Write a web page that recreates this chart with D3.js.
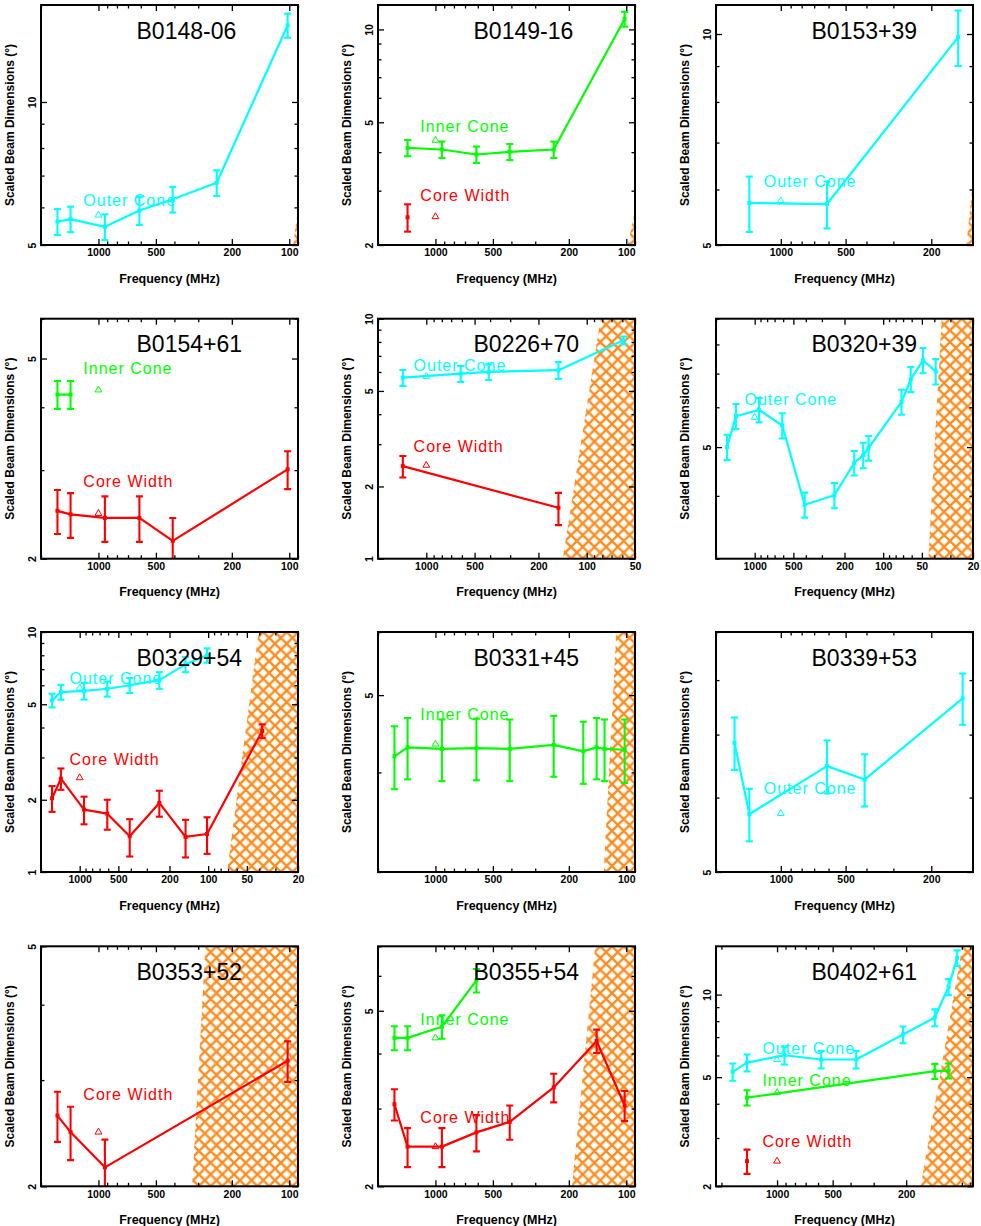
<!DOCTYPE html>
<html><head><meta charset="utf-8">
<script src="https://cdn.jsdelivr.net/npm/d3@7"></script>
<style>body{margin:0;background:#fff}svg{display:block}</style>
</head><body>
<svg id="c" width="981" height="1226"></svg>
<script>
// ---------- data ----------
const panelNames = ["B0148-06","B0149-16","B0153+39","B0154+61","B0226+70","B0320+39",
                    "B0329+54","B0331+45","B0339+53","B0353+52","B0355+54","B0402+61"];
const xDomains = [[2000,90],[2000,90],[2000,128],[2000,90],[2000,50],[2000,20],
                  [2000,20],[2000,90],[2000,128],[2000,90],[2000,90],[2140,87]];
const yDomains = [[5,16],[2,12],[5,11],[2,6],[1,10],[3,9],[1,10],[3,6],[5,9],[2,5],[2,7],[2,15]];
const yTickLabels = [[5,10],[2,5,10],[5,10],[2,5],[1,2,5,10],[5],[1,2,5,10],[5],[5],[2,5],[2,5],[2,5,10]];
const xTickLabels = [[1000,500,200,100],[1000,500,200,100],[1000,500,200],[1000,500,200,100],
                     [1000,500,200,100,50],[1000,500,200,100,50,20],[1000,500,200,100,50,20],
                     [1000,500,200,100],[1000,500,200],[1000,500,200,100],[1000,500,200,100],[1000,500,200]];
// hatched (excluded) region: frequency of its edge at the bottom and at the top of each panel
const hatchEdges = [[95.4,65.5],[98.3,53],[137.4,105.7],null,[141,82],[44.5,35.1],
                    [71.3,40.5],[131.2,112.7],null,[323,275],[192.4,145.3],[167,99.3]];
const refFreq = 1000;      // open triangles
const labelFreq = 1200;    // series labels start here
const labelLevels = {outer:6.05, inner:4.65, core:2.78};
const labelTexts = {outer:"Outer Cone", inner:"Inner Cone", core:"Core Width"};

// [frequency MHz, value deg, error]
const B0148_06_outer = [[1640,5.6,0.35],[1400,5.67,0.35],[925,5.46,0.34],[610,5.91,0.40],[408,6.24,0.39],[240,6.76,0.42],[102,14.5,0.85]];
const B0149_16_inner = [[1400,4.13,0.25],[925,4.08,0.25],[610,3.93,0.24],[408,4.01,0.24],[240,4.08,0.25],[102,10.81,0.6]];
const B0149_16_core  = [[1400,2.46,0.25]];
const B0153_39_outer = [[1400,5.74,0.52],[610,5.72,0.44],[150,9.9,0.9]];
const B0154_61_inner = [[1640,4.24,0.27],[1400,4.24,0.27]];
const B0154_61_core  = [[1640,2.49,0.25],[1400,2.45,0.25],[925,2.41,0.25],[610,2.41,0.25],[408,2.17,0.24],[102,3.01,0.26]];
const B0226_70_outer = [[1400,5.68,0.43],[610,5.9,0.45],[408,6.0,0.45],[150,6.1,0.49],[59,8.13,0.3]];
const B0226_70_core  = [[1400,2.43,0.25],[150,1.63,0.25]];
const B0320_39_outer = [[1640,5.0,0.29],[1400,5.76,0.33],[925,5.93,0.33],[610,5.52,0.32],[408,3.84,0.22],[240,4.01,0.23],[168,4.65,0.26],[143,4.82,0.28],[130,4.98,0.28],[72,6.15,0.35],[61,6.82,0.39],[49,7.44,0.43],[39,7.07,0.41]];
const B0329_54_outer = [[1640,5.19,0.34],[1400,5.62,0.4],[925,5.68,0.45],[610,5.8,0.42],[408,6.0,0.43],[240,6.3,0.5],[150,7.33,0.53],[102,8.0,0.55]];
const B0329_54_core  = [[1640,2.03,0.25],[1400,2.45,0.25],[925,1.82,0.24],[610,1.75,0.25],[408,1.41,0.25],[240,1.94,0.24],[150,1.40,0.25],[102,1.44,0.25],[38,3.87,0.25]];
const B0331_45_inner = [[1640,4.19,0.38],[1400,4.30,0.38],[925,4.28,0.38],[610,4.29,0.38],[408,4.28,0.38],[240,4.33,0.38],[168,4.25,0.38],[143,4.30,0.38],[130,4.28,0.38],[102,4.27,0.39]];
const B0339_53_outer = [[1640,6.86,0.44],[1400,5.76,0.37],[610,6.48,0.42],[408,6.27,0.4],[143,7.65,0.48]];
const B0353_52_core  = [[1640,2.62,0.25],[1400,2.46,0.25],[925,2.15,0.24],[102,3.23,0.25]];
const B0355_54_inner = [[1640,4.34,0.27],[1400,4.34,0.27],[925,4.6,0.28],[610,5.86,0.36]];
const B0355_54_core  = [[1640,3.07,0.25],[1400,2.46,0.25],[925,2.46,0.25],[610,2.65,0.25],[408,2.80,0.25],[240,3.35,0.25],[143,4.27,0.26],[102,3.05,0.24]];
const B0402_61_outer = [[1738,5.23,0.38],[1454,5.65,0.4],[912,6.01,0.45],[577,5.8,0.42],[373,5.8,0.42],[208,7.15,0.5],[140,8.25,0.58],[118,10.67,0.72],[106,13.61,0.88]];
const B0402_61_inner = [[1454,4.21,0.27],[140,5.26,0.33],[118,5.28,0.33]];
const B0402_61_core  = [[1454,2.47,0.25]];

// [panel, kind, data, value of reference triangle at 1000 MHz]
const seriesList = [
  [0,"outer",B0148_06_outer,5.78],
  [1,"inner",B0149_16_inner,4.37],[1,"core",B0149_16_core,2.47],
  [2,"outer",B0153_39_outer,5.78],
  [3,"inner",B0154_61_inner,4.33],[3,"core",B0154_61_core,2.46],
  [4,"outer",B0226_70_outer,5.75],[4,"core",B0226_70_core,2.45],
  [5,"outer",B0320_39_outer,5.73],
  [6,"outer",B0329_54_outer,5.84],[6,"core",B0329_54_core,2.47],
  [7,"inner",B0331_45_inner,4.34],
  [8,"outer",B0339_53_outer,5.77],
  [9,"core",B0353_52_core,2.46],
  [10,"inner",B0355_54_inner,4.34],[10,"core",B0355_54_core,2.46],
  [11,"outer",B0402_61_outer,5.80],[11,"inner",B0402_61_inner,4.39],[11,"core",B0402_61_core,2.47]
];

// ---------- layout / style ----------
const W = 257, H = 240;
const colLeft = [41, 378, 716];
const rowTop = [5, 318.7, 632, 946.3];
const colors = {outer:"#00ffff", inner:"#00ff00", core:"#ff0000"};
const hatchColor = "#ff8c1e";
const FONT = "'Liberation Sans', Arial, Helvetica, sans-serif";
const MAJ = 6, MIN = 3.5;

const svg = d3.select("#c");
svg.append("rect").attr("width",981).attr("height",1226).attr("fill","#fff");
const defs = svg.append("defs");
const HS = 11.7;
const pat = defs.append("pattern").attr("id","hatch").attr("patternUnits","userSpaceOnUse")
  .attr("width",HS).attr("height",HS);
pat.append("path").attr("d",`M-2,-2L${HS+2},${HS+2}M-2,${HS+2}L${HS+2},-2`)
  .attr("stroke",hatchColor).attr("stroke-width",2.4).attr("fill","none");

function logTicks(dom){
  const lo = Math.min(...dom), hi = Math.max(...dom), out = [];
  for (let k = Math.floor(Math.log10(lo)); k <= Math.ceil(Math.log10(hi)); k++)
    for (let m = 1; m <= 9; m++){ const v = +(m*Math.pow(10,k)).toPrecision(6); if (v >= lo*0.999 && v <= hi*1.001) out.push(v); }
  return out;
}

const panels = panelNames.map((name,i)=>{
  const col = i%3, row = Math.floor(i/3);
  const g = svg.append("g").attr("transform",`translate(${colLeft[col]},${rowTop[row]})`);
  const x = d3.scaleLog().domain(xDomains[i]).range([0,W]);
  const y = d3.scaleLog().domain(yDomains[i]).range([H,0]);
  const cid = "clip"+i;
  defs.append("clipPath").attr("id",cid).append("rect").attr("width",W).attr("height",H);
  const inner = g.append("g").attr("clip-path",`url(#${cid})`);
  if (hatchEdges[i]){
    const [fb,ft] = hatchEdges[i], [ymin,ymax] = yDomains[i], xr = xDomains[i][1]/1.3;
    const poly = [[fb,ymin],[ft,ymax],[xr,ymax],[xr,ymin]];
    inner.append("path").attr("d", d3.line().x(d=>x(d[0])).y(d=>y(d[1]))(poly)+"Z")
      .attr("fill","url(#hatch)");
  }
  return {g, inner, x, y, name, i};
});

// data series
seriesList.forEach(([pi,kind,data,ref])=>{
  const {g, inner, x, y} = panels[pi];
  const c = colors[kind];
  const line = d3.line().x(d=>x(d[0])).y(d=>y(d[1]));
  if (data.length > 1)
    inner.append("path").attr("d",line(data)).attr("fill","none").attr("stroke",c)
      .attr("stroke-width",2.2).attr("stroke-linejoin","round");
  const eb = inner.append("g").attr("stroke",c).attr("stroke-width",2.1);
  data.forEach(d=>{
    const xx = x(d[0]), y1 = y(d[1]-d[2]), y2 = y(d[1]+d[2]);
    eb.append("line").attr("x1",xx).attr("x2",xx).attr("y1",y1).attr("y2",y2);
    eb.append("line").attr("x1",xx-3.5).attr("x2",xx+3.5).attr("y1",y1).attr("y2",y1);
    eb.append("line").attr("x1",xx-3.5).attr("x2",xx+3.5).attr("y1",y2).attr("y2",y2);
  });
  inner.selectAll(null).data(data).enter().append("rect")
    .attr("x",d=>x(d[0])-2).attr("y",d=>y(d[1])-2).attr("width",4).attr("height",4).attr("fill",c);
  inner.append("path").attr("d",d3.symbol().type(d3.symbolTriangle).size(20)())
    .attr("transform",`translate(${x(refFreq)},${y(ref)})`)
    .attr("fill","none").attr("stroke",c).attr("stroke-width",1);
  g.append("text").attr("x",x(labelFreq)).attr("y",y(labelLevels[kind]))
    .attr("fill",c).attr("font-family",FONT).attr("font-size",16).attr("letter-spacing",1)
    .text(labelTexts[kind]);
});

// axes, frame, titles
panels.forEach(({g,x,y,name,i})=>{
  const xMaj = xTickLabels[i];
  const xMin = logTicks(xDomains[i]).filter(v=>!xMaj.includes(v));
  const yMaj = yTickLabels[i];
  const yMin = logTicks(yDomains[i]).filter(v=>!yMaj.includes(v));
  const style = sel => { sel.select(".domain").remove();
    sel.selectAll("line").attr("stroke","#000").attr("stroke-width",1.3);
    sel.selectAll("text").attr("font-family",FONT).attr("font-weight","bold").attr("font-size",10.5).attr("fill","#000"); };
  g.append("g").attr("transform",`translate(0,${H})`)
    .call(d3.axisBottom(x).tickValues(xMaj).tickSizeInner(-MAJ).tickSizeOuter(0).tickPadding(4).tickFormat(d3.format("d"))).call(style);
  g.append("g").attr("transform",`translate(0,${H})`)
    .call(d3.axisBottom(x).tickValues(xMin).tickSizeInner(-MIN).tickSizeOuter(0).tickFormat("")).call(style);
  g.append("g").call(d3.axisTop(x).tickValues(xMaj).tickSizeInner(-MAJ).tickSizeOuter(0).tickFormat("")).call(style);
  g.append("g").call(d3.axisTop(x).tickValues(xMin).tickSizeInner(-MIN).tickSizeOuter(0).tickFormat("")).call(style);
  const ly = g.append("g").call(d3.axisLeft(y).tickValues(yMaj).tickSizeInner(-MAJ).tickSizeOuter(0).tickFormat(d3.format("d"))).call(style);
  ly.selectAll("text").attr("x",0).attr("y",-5.5).attr("dy",0).attr("text-anchor","middle").attr("transform","rotate(-90)");
  g.append("g").call(d3.axisLeft(y).tickValues(yMin).tickSizeInner(-MIN).tickSizeOuter(0).tickFormat("")).call(style);
  g.append("g").attr("transform",`translate(${W},0)`)
    .call(d3.axisRight(y).tickValues(yMaj).tickSizeInner(-MAJ).tickSizeOuter(0).tickFormat("")).call(style);
  g.append("g").attr("transform",`translate(${W},0)`)
    .call(d3.axisRight(y).tickValues(yMin).tickSizeInner(-MIN).tickSizeOuter(0).tickFormat("")).call(style);
  g.append("rect").attr("width",W).attr("height",H).attr("fill","none").attr("stroke","#000").attr("stroke-width",2);
  g.append("text").attr("x",95.5).attr("y",33.5).attr("font-family",FONT).attr("font-size",23).attr("fill","#000").text(name);
  g.append("text").attr("x",W/2).attr("y",H+37.5).attr("text-anchor","middle")
    .attr("font-family",FONT).attr("font-weight","bold").attr("font-size",12.5).text("Frequency (MHz)");
  g.append("text").attr("transform",`translate(-27.5,${H/2}) rotate(-90)`).attr("text-anchor","middle")
    .attr("font-family",FONT).attr("font-weight","bold").attr("font-size",12).text("Scaled Beam Dimensions (°)");
});
</script>
</body></html>
